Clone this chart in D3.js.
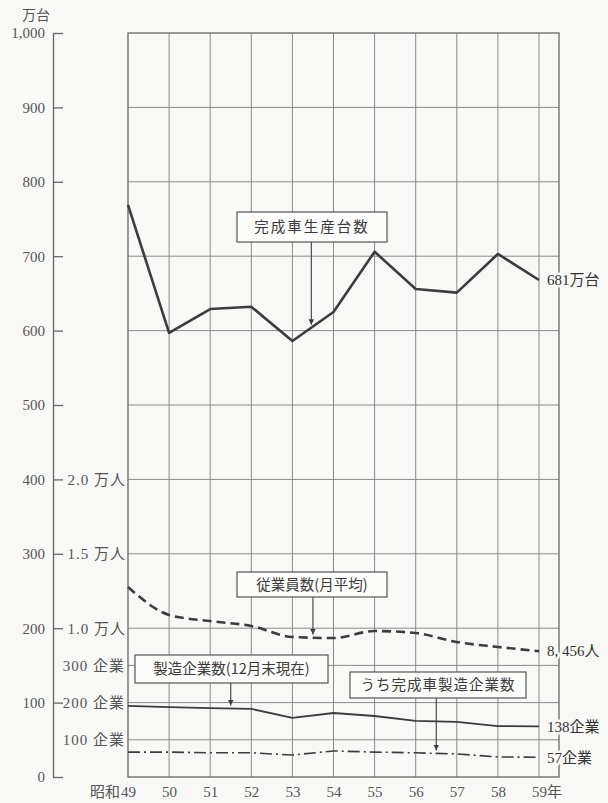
<!DOCTYPE html>
<html>
<head>
<meta charset="utf-8">
<script src="https://cdn.jsdelivr.net/npm/d3@7"></script>
<style>
  html, body { margin: 0; padding: 0; background: #f8f9f6; }
  svg { display: block; }
</style>
</head>
<body>
<div id="app"></div>
<script>
`use strict`;

// 昭和49〜59年
const years = [49, 50, 51, 52, 53, 54, 55, 56, 57, 58, 59];

// 完成車生産台数（万台）
const production = [769, 597, 629, 632, 586, 625, 706, 656, 651, 703, 668];

// 従業員数（月平均, 人）
const employees = [12770, 10890, 10480, 10150, 9410, 9340, 9810, 9680, 9070, 8740, 8456];

// 製造企業数（12月末現在）
const companies = [191, 188, 185, 183, 159, 172, 164, 151, 148, 137, 136];

// うち完成車製造企業数
const makers = [67, 67, 65, 65, 59, 70, 67, 65, 62, 54, 53];

const leftTicks = [0, 100, 200, 300, 400, 500, 600, 700, 800, 900, 1000];
const empTicks = [10000, 15000, 20000];
const firmTicks = [100, 200, 300];

const endLabels = [`681万台`, `8, 456人`, `138企業`, `57企業`];

const W = 608, H = 803;
const L = 128, R = 559, T = 33, B = 777;

const SERIF = `"Liberation Serif", "DejaVu Serif", "Noto Sans CJK JP", serif`;
const GOTHIC = `"Noto Sans CJK JP", sans-serif`;

const SVG = d3.select(`#app`).append(`svg`).attr(`width`, W).attr(`height`, H);

const x = d3.scaleLinear().domain([49, 59]).range([L, 539]);
const y = d3.scaleLinear().domain([0, 1000]).range([B, T]);
const yEmp = d3.scaleLinear().domain([0, 50000]).range([B, T]);
const yFirm = d3.scaleLinear().domain([0, 2000]).range([B, T]);

const ink = `#3c3c3c`, grid = `#8a8a8a`;

function serif (sel, size) {
  return sel.attr(`font-family`, SERIF).attr(`font-size`, size).attr(`fill`, `#555`);
}

/* grid */

let G = SVG.append(`g`).attr(`stroke`, grid).attr(`stroke-width`, 1);

leftTicks.filter(d => d > 0 && d < 1000).forEach(d => {
  G.append(`line`).attr(`x1`, L).attr(`x2`, R).attr(`y1`, y(d)).attr(`y2`, y(d));
});

[100, 300].forEach(d => {
  G.append(`line`).attr(`x1`, L).attr(`x2`, R).attr(`y1`, yFirm(d)).attr(`y2`, yFirm(d));
});

years.slice(1).forEach(d => {
  G.append(`line`).attr(`x1`, x(d)).attr(`x2`, x(d)).attr(`y1`, T).attr(`y2`, B);
});

SVG.append(`rect`).attr(`x`, L).attr(`y`, T).attr(`width`, R - L).attr(`height`, B - T)
  .attr(`fill`, `none`).attr(`stroke`, `#666`).attr(`stroke-width`, 1.3);

/* axes */

let AX = SVG.append(`g`).attr(`transform`, `translate(53,0)`)
  .call(d3.axisLeft(y).tickValues(leftTicks).tickFormat(d3.format(`,`)).tickSizeInner(-10).tickSizeOuter(0).tickPadding(8));

serif(AX.selectAll(`text`), 15);
AX.selectAll(`line, path`).attr(`stroke`, `#666`).attr(`stroke-width`, 1.3);

let AE = SVG.append(`g`).attr(`transform`, `translate(${L},0)`)
  .call(d3.axisLeft(yEmp).tickValues(empTicks).tickFormat(d => `${(d / 10000).toFixed(1)} 万人`).tickSize(0).tickPadding(2));

let AF = SVG.append(`g`).attr(`transform`, `translate(${L},0)`)
  .call(d3.axisLeft(yFirm).tickValues(firmTicks).tickFormat(d => `${d} 企業`).tickSize(0).tickPadding(3));

[AE, AF].forEach(A => {
  A.select(`.domain`).remove();
  serif(A.selectAll(`text`), 15).attr(`letter-spacing`, 1);
});

let AB = SVG.append(`g`).attr(`transform`, `translate(0,${B})`)
  .call(d3.axisBottom(x).tickValues(years).tickSize(0).tickPadding(9));

AB.select(`.domain`).remove();
serif(AB.selectAll(`text`), 15);

serif(SVG.append(`text`), 15).attr(`x`, x(49) - 8).attr(`y`, B + 9).attr(`dy`, `.71em`)
  .attr(`text-anchor`, `end`).text(`昭和`);

serif(SVG.append(`text`), 15).attr(`x`, x(59) + 8).attr(`y`, B + 9).attr(`dy`, `.71em`).text(`年`);

serif(SVG.append(`text`), 14).attr(`x`, 36).attr(`y`, 15).attr(`dy`, `.35em`)
  .attr(`text-anchor`, `middle`).text(`万台`);

/* series */

const Series = [
  [production, y, d3.curveLinear, 2.6, null],
  [employees, yEmp, d3.curveMonotoneX, 2.6, `9,5`],
  [companies, yFirm, d3.curveLinear, 1.8, null],
  [makers, yFirm, d3.curveLinear, 1.6, `12,4,2,4`]
];

Series.forEach(([vals, scale, curve, w, dash]) => {
  let line = d3.line().x((d, i) => x(years[i])).y(d => scale(d)).curve(curve);
  SVG.append(`path`).attr(`d`, line(vals)).attr(`fill`, `none`).attr(`stroke`, ink)
    .attr(`stroke-width`, w).attr(`stroke-dasharray`, dash).attr(`stroke-linejoin`, `round`);
});

/* end labels */

Series.forEach(([vals, scale], i) => {
  serif(SVG.append(`text`), 15).attr(`x`, x(59) + 8)
    .attr(`y`, scale(vals[vals.length - 1])).attr(`dy`, `.35em`)
    .attr(`fill`, `#333`).attr(`stroke`, `#f8f9f6`).attr(`stroke-width`, 5).attr(`paint-order`, `stroke`)
    .text(endLabels[i]);
});

/* callouts */

SVG.append(`defs`).append(`marker`).attr(`id`, `tip`).attr(`viewBox`, `0 0 10 10`).attr(`refX`, 10).attr(`refY`, 5)
  .attr(`markerWidth`, 5).attr(`markerHeight`, 7).attr(`orient`, `auto`)
  .append(`path`).attr(`d`, `M0,0L10,5L0,10Z`).attr(`fill`, ink);

function valAt (vals, t) {
  let i = Math.min(Math.floor(t - 49), vals.length - 2), f = t - 49 - i;
  return vals[i] * (1 - f) + vals[i + 1] * f;
}

const Boxes = [
  [`完成車生産台数`, 237, 212, 150, 30, 2, 53.46, production, y],
  [`従業員数(月平均)`, 237, 572, 150, 25, 0, 53.5, employees, yEmp],
  [`製造企業数(12月末現在)`, 135, 655, 193, 28, 0, 51.5, companies, yFirm],
  [`うち完成車製造企業数`, 350, 672, 176, 26, 1, 56.5, makers, yFirm]
];

Boxes.forEach(([label, bx, by, bw, bh, ls, at, vals, scale]) => {
  SVG.append(`line`).attr(`x1`, x(at)).attr(`x2`, x(at)).attr(`y1`, by + bh).attr(`y2`, scale(valAt(vals, at)) - 3)
    .attr(`stroke`, ink).attr(`stroke-width`, 1.1).attr(`marker-end`, `url(#tip)`);
  SVG.append(`rect`).attr(`x`, bx).attr(`y`, by).attr(`width`, bw).attr(`height`, bh)
    .attr(`fill`, `#fcfcfb`).attr(`stroke`, `#555`).attr(`stroke-width`, 1.2);
  SVG.append(`text`).attr(`font-family`, GOTHIC).attr(`fill`, `#3a3a3a`).attr(`font-size`, 14.5).attr(`letter-spacing`, ls)
    .attr(`x`, bx + bw / 2).attr(`y`, by + bh / 2).attr(`dy`, `.35em`).attr(`text-anchor`, `middle`).text(label);
});
</script>
</body>
</html>
